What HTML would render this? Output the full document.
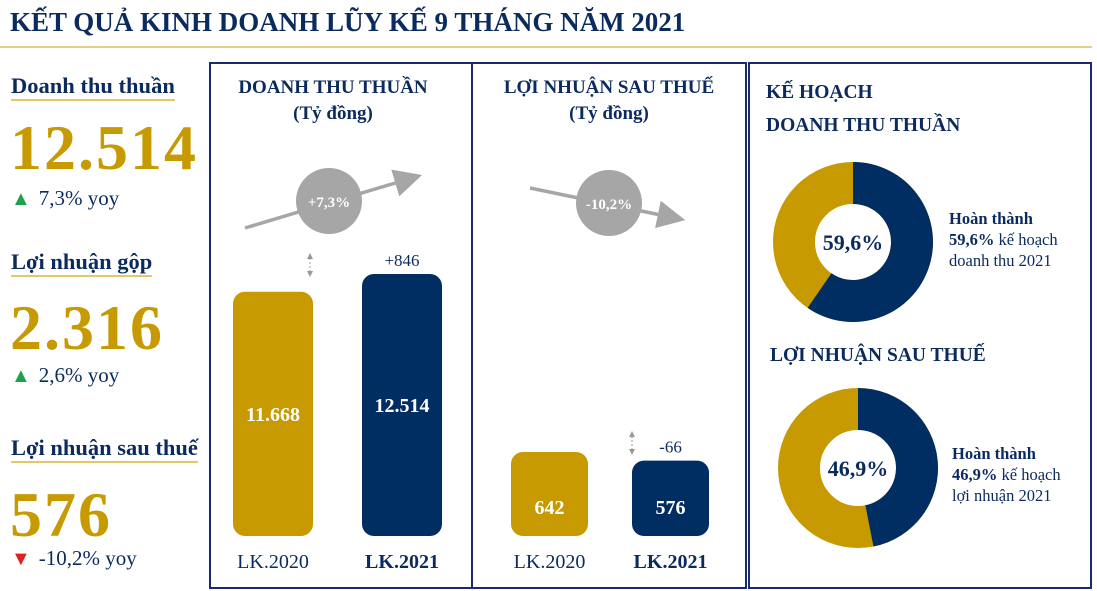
<!DOCTYPE html>
<html><head><meta charset="utf-8"><style>
body{margin:0;width:1097px;height:591px;background:#fff;overflow:hidden;font-family:"Liberation Serif",serif;color:#0b2a5e;position:relative}
.a{position:absolute;white-space:nowrap}
.b{font-weight:bold}
.lbl{font-size:22.5px;font-weight:bold;border-bottom:2px solid #e4c76a;padding-bottom:1px;line-height:24px}
.big{font-size:64px;font-weight:bold;color:#c69a00;line-height:60px;letter-spacing:2px}
.yoy{font-size:21px;color:#0b2a5e}
.yoy span{font-size:20px;margin-right:8px}
.panel{position:absolute;border:2px solid #1a2a6e;box-sizing:border-box}
</style></head><body>
<div class="a b" style="left:10px;top:5px;font-size:27px;line-height:34px">KẾT QUẢ KINH DOANH LŨY KẾ 9 THÁNG NĂM 2021</div>
<div class="a" style="left:0;top:46px;width:1092px;height:2px;background:#e4cf8a"></div>

<div class="a lbl" style="left:11px;top:74px">Doanh thu thuần</div>
<div class="a big" style="left:10px;top:118px">12.514</div>
<div class="a yoy" style="left:11px;top:186px"><span style="color:#1aa34a">▲</span>7,3% yoy</div>

<div class="a lbl" style="left:11px;top:250px">Lợi nhuận gộp</div>
<div class="a big" style="left:10px;top:298px">2.316</div>
<div class="a yoy" style="left:11px;top:363px"><span style="color:#1aa34a">▲</span>2,6% yoy</div>

<div class="a lbl" style="left:11px;top:436px">Lợi nhuận sau thuế</div>
<div class="a big" style="left:10px;top:485px">576</div>
<div class="a yoy" style="left:11px;top:546px"><span style="color:#e02020">▼</span>-10,2% yoy</div>

<div class="panel" style="left:209px;top:62px;width:264px;height:527px"></div>
<div class="panel" style="left:471px;top:62px;width:276px;height:527px"></div>
<div class="panel" style="left:748px;top:62px;width:344px;height:527px"></div>

<svg class="a" style="left:0;top:0" width="1097" height="591" font-family="Liberation Serif, serif">
<defs><marker id="ah" markerWidth="8" markerHeight="8" refX="5" refY="4" orient="auto"><path d="M0,0 L8,4 L0,8 z" fill="#a6a6a6"/></marker></defs>
<text x="333" y="93" text-anchor="middle" font-size="19" font-weight="bold" fill="#0b2a5e">DOANH THU THUẦN</text>
<text x="333" y="119" text-anchor="middle" font-size="19" font-weight="bold" fill="#0b2a5e">(Tỷ đồng)</text>
<text x="609" y="93" text-anchor="middle" font-size="19" font-weight="bold" fill="#0b2a5e">LỢI NHUẬN SAU THUẾ</text>
<text x="609" y="119" text-anchor="middle" font-size="19" font-weight="bold" fill="#0b2a5e">(Tỷ đồng)</text>
<line x1="245" y1="228" x2="412" y2="178" stroke="#a6a6a6" stroke-width="3.5" marker-end="url(#ah)"/>
<circle cx="329" cy="201" r="33" fill="#a6a6a6"/>
<text x="329" y="207" text-anchor="middle" font-size="15" font-weight="bold" fill="#fff">+7,3%</text>
<line x1="530" y1="188" x2="675" y2="218" stroke="#a6a6a6" stroke-width="3.5" marker-end="url(#ah)"/>
<circle cx="609" cy="203" r="33" fill="#a6a6a6"/>
<text x="609" y="209" text-anchor="middle" font-size="15" font-weight="bold" fill="#fff">-10,2%</text>
<g id="bars"></g>
<text x="766" y="98" font-size="19.5" font-weight="bold" fill="#0b2a5e">KẾ HOẠCH</text>
<text x="766" y="131" font-size="19.5" font-weight="bold" fill="#0b2a5e">DOANH THU THUẦN</text>
<text x="770" y="361" font-size="19.5" font-weight="bold" fill="#0b2a5e">LỢI NHUẬN SAU THUẾ</text>
<g id="donuts"></g>
<text x="949" y="224" font-size="16.5" font-weight="bold" fill="#0b2a5e">Hoàn thành</text>
<text x="949" y="245" font-size="16.5" fill="#0b2a5e"><tspan font-weight="bold">59,6%</tspan> kế hoạch</text>
<text x="949" y="266" font-size="16.5" fill="#0b2a5e">doanh thu 2021</text>
<text x="952" y="459" font-size="16.5" font-weight="bold" fill="#0b2a5e">Hoàn thành</text>
<text x="952" y="480" font-size="16.5" fill="#0b2a5e"><tspan font-weight="bold">46,9%</tspan> kế hoạch</text>
<text x="952" y="501" font-size="16.5" fill="#0b2a5e">lợi nhuận 2021</text>
</svg>
<script>
const categories=["LK.2020","LK.2021"];
const revenueValues=[11668,12514];
const profitValues=[642,576];
const revenueDelta="+846";
const profitDelta="-66";
const planCompletion=[59.6,46.9];
const planLabels=["59,6%","46,9%"];
const NS="http://www.w3.org/2000/svg";
const colors=["#c69a00","#002d62"];
function mk(t,a,p){const e=document.createElementNS(NS,t);for(const k in a)e.setAttribute(k,a[k]);p.appendChild(e);return e;}
const bars=document.getElementById('bars');
function chart(vals,xs,w,base,maxH,maxV,fmt,labelInside,delta,dx){
  const y=v=>base-v/maxV*maxH;
  vals.forEach((v,i)=>{
    const r=mk('rect',{x:xs[i],y:y(v),width:w,height:base-y(v),rx:12,fill:colors[i]},bars);
    
    
    const ty=labelInside?(y(v)+base)/2+7:base-22;
    const t=mk('text',{x:xs[i]+w/2,y:ty,'text-anchor':'middle','font-size':20,'font-weight':'bold',fill:'#fff'},bars);t.textContent=fmt(v);
    const c=mk('text',{x:xs[i]+w/2,y:568,'text-anchor':'middle','font-size':20,'font-weight':i?'bold':'normal',fill:'#0b2a5e'},bars);c.textContent=categories[i];
  });
  const d=mk('text',{x:xs[1]+w/2,y:y(vals[1])-8,'text-anchor':'middle','font-size':17,fill:'#0b2a5e'},bars);d.textContent=delta;
  const top=y(Math.max(...vals));
  mk('line',{x1:dx,y1:top-20,x2:dx,y2:top+2,stroke:'#999','stroke-dasharray':'2,2'},bars);
  mk('path',{d:`M${dx-3},${top-15} L${dx},${top-21} L${dx+3},${top-15} Z M${dx-3},${top-3} L${dx},${top+3} L${dx+3},${top-3} Z`,fill:'#999'},bars);
}
const fmtDot=v=>v.toLocaleString('de-DE');
chart(revenueValues,[233,362],80,536,262,12514,fmtDot,true,revenueDelta,310);
chart(profitValues,[511,632],77,536,84,642,v=>String(v),false,profitDelta,632);
const don=document.getElementById('donuts');
const centers=[[853,242],[858,468]];
planCompletion.forEach((p,i)=>{
  const [cx,cy]=centers[i],R=80,r=38;
  mk('circle',{cx,cy,r:(R+r)/2,fill:'none',stroke:colors[0],'stroke-width':R-r},don);
  const a=p/100*2*Math.PI, x=cx+R*Math.sin(a), y=cy-R*Math.cos(a), xi=cx+r*Math.sin(a), yi=cy-r*Math.cos(a);
  const big=p>50?1:0;
  const path=mk('path',{d:`M${cx},${cy-R} A${R},${R} 0 ${big} 1 ${x},${y} L${xi},${yi} A${r},${r} 0 ${big} 0 ${cx},${cy-r} Z`,fill:colors[1]},don);
  
  
  const t=mk('text',{x:cx,y:cy+8,'text-anchor':'middle','font-size':22,'font-weight':'bold',fill:'#0b2a5e'},don);t.textContent=planLabels[i];
});
</script>
</body></html>
